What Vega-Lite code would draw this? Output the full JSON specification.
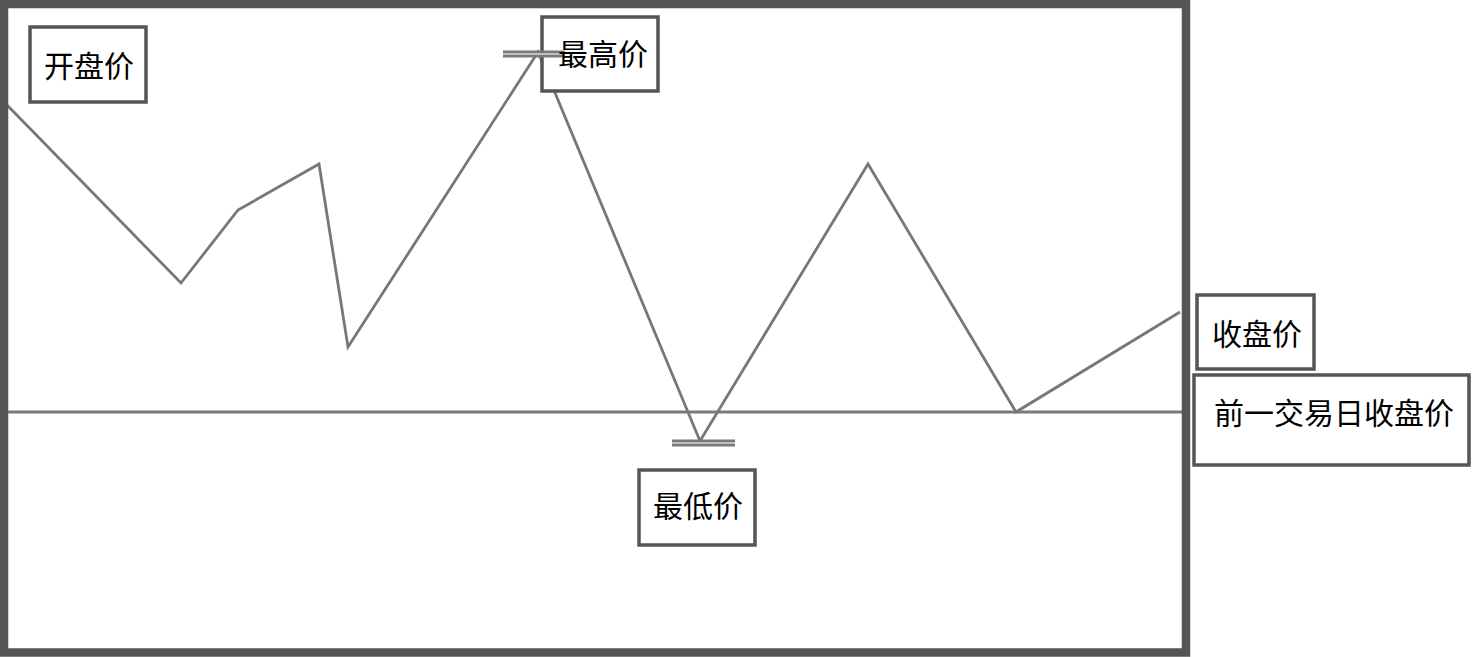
{
  "$schema": "https://vega.github.io/schema/vega-lite/v6.json",
  "width": 1472,
  "height": 657,
  "padding": 0,
  "autosize": {"type": "none"},
  "background": "white",
  "config": {"view": {"stroke": null}},
  "datasets": {
    "prices": [
      {"t": 5, "price": 554},
      {"t": 181, "price": 374},
      {"t": 238, "price": 447},
      {"t": 319, "price": 493},
      {"t": 348, "price": 310},
      {"t": 538, "price": 605},
      {"t": 700, "price": 216},
      {"t": 868, "price": 493},
      {"t": 1016, "price": 245},
      {"t": 1180, "price": 345}
    ],
    "frame": [{"t1": 4, "t2": 1186, "p1": 653, "p2": 4.5}],
    "prevclose": [{"t1": 5, "t2": 1182, "price": 245}],
    "markers": [
      {"name": "最高价", "t1": 503, "t2": 565, "price": 603},
      {"name": "最低价", "t1": 672, "t2": 735, "price": 214}
    ],
    "labels": [
      {"label": "开盘价", "t1": 30, "t2": 146, "p1": 630, "p2": 555, "tx": 89, "ty": 589},
      {"label": "最高价", "t1": 542, "t2": 658, "p1": 640, "p2": 566, "tx": 603, "ty": 601},
      {"label": "最低价", "t1": 639, "t2": 755, "p1": 187, "p2": 112, "tx": 698, "ty": 149},
      {"label": "收盘价", "t1": 1197, "t2": 1314, "p1": 362, "p2": 288, "tx": 1257, "ty": 321},
      {"label": "前一交易日收盘价", "t1": 1194, "t2": 1469, "p1": 282, "p2": 192, "tx": 1334, "ty": 242}
    ]
  },
  "resolve": {"scale": {"x": "shared", "y": "shared"}},
  "layer": [
    {
      "data": {"name": "prevclose"},
      "mark": {"type": "rule", "color": "#7a7a7a", "strokeWidth": 3},
      "encoding": {
        "x": {"field": "t1", "type": "quantitative", "scale": {"domain": [0, 1472], "nice": false, "zero": false}, "axis": null},
        "x2": {"field": "t2"},
        "y": {"field": "price", "type": "quantitative", "scale": {"domain": [0, 657], "nice": false, "zero": false}, "axis": null}
      }
    },
    {
      "data": {"name": "prices"},
      "mark": {"type": "line", "color": "#777777", "strokeWidth": 2.8, "strokeJoin": "miter"},
      "encoding": {
        "x": {"field": "t", "type": "quantitative"},
        "y": {"field": "price", "type": "quantitative"}
      }
    },
    {
      "data": {"name": "frame"},
      "mark": {"type": "rect", "fill": null, "stroke": "#555555", "strokeWidth": 8.5},
      "encoding": {
        "x": {"field": "t1", "type": "quantitative"},
        "x2": {"field": "t2"},
        "y": {"field": "p1", "type": "quantitative"},
        "y2": {"field": "p2"}
      }
    },
    {
      "data": {"name": "labels"},
      "mark": {"type": "rect", "fill": "white", "stroke": "#555555", "strokeWidth": 3.5},
      "encoding": {
        "x": {"field": "t1", "type": "quantitative"},
        "x2": {"field": "t2"},
        "y": {"field": "p1", "type": "quantitative"},
        "y2": {"field": "p2"}
      }
    },
    {
      "data": {"name": "markers"},
      "mark": {"type": "rule", "color": "#7a7a7a", "strokeWidth": 7},
      "encoding": {
        "x": {"field": "t1", "type": "quantitative"},
        "x2": {"field": "t2"},
        "y": {"field": "price", "type": "quantitative"}
      }
    },
    {
      "data": {"name": "markers"},
      "mark": {"type": "rule", "color": "#d8d8d8", "strokeWidth": 1.5},
      "encoding": {
        "x": {"field": "t1", "type": "quantitative"},
        "x2": {"field": "t2"},
        "y": {"field": "price", "type": "quantitative"}
      }
    },
    {
      "data": {"name": "labels"},
      "mark": {"type": "text", "font": "Noto Sans CJK SC", "fontSize": 30, "color": "#000000", "align": "center", "baseline": "middle"},
      "encoding": {
        "x": {"field": "tx", "type": "quantitative"},
        "y": {"field": "ty", "type": "quantitative"},
        "text": {"field": "label"}
      }
    }
  ]
}
